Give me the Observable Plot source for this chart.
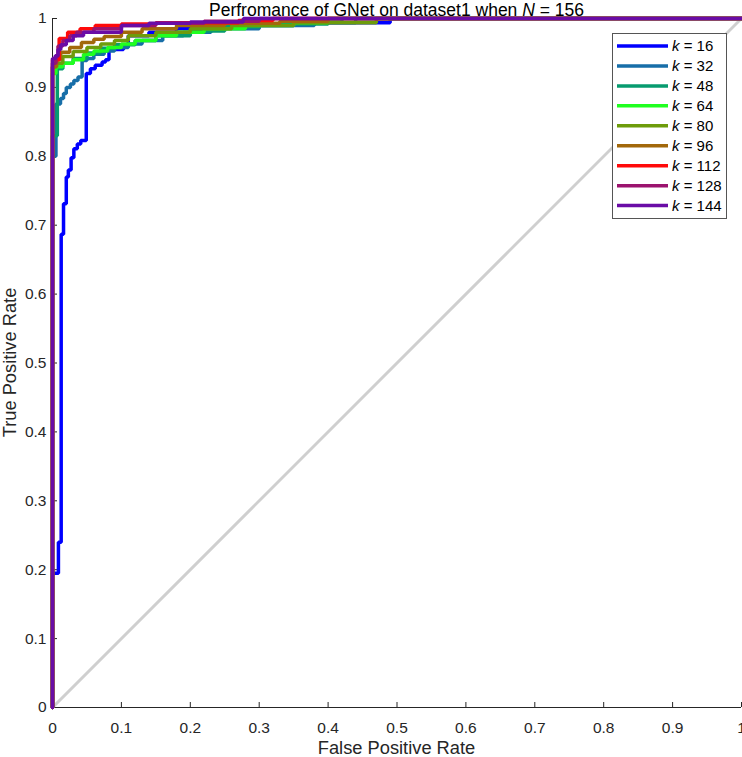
<!DOCTYPE html>
<html><head><meta charset="utf-8">
<script src="https://cdn.jsdelivr.net/npm/d3@7"></script>
<script src="https://cdn.jsdelivr.net/npm/@observablehq/plot@0.6"></script>
<style>body{margin:0;background:#fff} svg{display:block}</style>
</head><body><div id="chart"></div>
<script>
// ---- data ----
const kValues = [16, 32, 48, 64, 80, 96, 112, 128, 144];
const colors = ["#0000ff", "#176ea8", "#079b6f", "#20ff20", "#6d9c0b", "#a2680b", "#ff0a0a", "#9b136e", "#6a0ca6"];

// ROC corner points [FPR, TPR] (step-after)
const roc16 = [[0,0],[0,0.195],[0.0086,0.24],[0.0126,0.687],[0.016,0.731],[0.02,0.77],[0.023,0.78],[0.027,0.798],[0.031,0.811],[0.036,0.818],[0.041,0.823],[0.049,0.92],[0.055,0.927],[0.062,0.932],[0.072,0.937],[0.077,0.94],[0.082,0.955],[0.103,0.962],[0.11,0.975],[0.14,0.98],[0.18,0.985],[0.25,0.99],[0.35,0.994],[0.49,1],[1,1]];
const roc32 = [[0,0],[0,0.8],[0.005,0.876],[0.0116,0.884],[0.016,0.891],[0.02,0.9],[0.026,0.905],[0.031,0.91],[0.037,0.915],[0.043,0.939],[0.05,0.942],[0.06,0.948],[0.075,0.953],[0.09,0.958],[0.11,0.963],[0.13,0.968],[0.16,0.975],[0.19,0.98],[0.23,0.985],[0.3,0.99],[0.38,0.994],[0.44,1],[1,1]];
const roc48 = [[0,0],[0,0.83],[0.007,0.927],[0.015,0.935],[0.03,0.942],[0.05,0.95],[0.07,0.957],[0.09,0.962],[0.12,0.968],[0.15,0.975],[0.2,0.982],[0.25,0.988],[0.3,0.992],[0.4,0.995],[0.42,1],[1,1]];
const roc64 = [[0,0],[0,0.92],[0.005,0.93],[0.015,0.935],[0.03,0.94],[0.045,0.948],[0.06,0.953],[0.08,0.958],[0.1,0.963],[0.12,0.968],[0.15,0.975],[0.18,0.98],[0.22,0.985],[0.28,0.99],[0.35,0.994],[0.4,1],[1,1]];
const roc80 = [[0,0],[0,0.93],[0.005,0.935],[0.015,0.945],[0.03,0.952],[0.05,0.958],[0.07,0.963],[0.09,0.968],[0.11,0.975],[0.15,0.98],[0.2,0.985],[0.26,0.99],[0.35,0.994],[0.47,1],[1,1]];
const roc96 = [[0,0],[0,0.93],[0.006,0.94],[0.012,0.951],[0.025,0.958],[0.042,0.965],[0.06,0.97],[0.075,0.974],[0.1,0.98],[0.13,0.985],[0.18,0.99],[0.25,0.993],[0.33,0.996],[0.4,1],[1,1]];
const roc112 = [[0,0],[0,0.94],[0.0097,0.971],[0.022,0.98],[0.04,0.985],[0.062,0.99],[0.1,0.992],[0.15,0.994],[0.27,0.997],[0.32,1],[1,1]];
const roc128 = [[0,0],[0,0.935],[0.005,0.945],[0.008,0.96],[0.015,0.968],[0.025,0.975],[0.035,0.98],[0.06,0.985],[0.1,0.99],[0.15,0.993],[0.22,0.996],[0.3,1],[1,1]];
const roc144 = [[0,0],[0,0.942],[0.004,0.946],[0.008,0.955],[0.012,0.962],[0.02,0.968],[0.03,0.975],[0.045,0.98],[0.1,0.99],[0.14,0.993],[0.2,0.995],[0.277,1],[1,1]];
const rocCurves = [roc16, roc32, roc48, roc64, roc80, roc96, roc112, roc128, roc144];
const diagonal = [[0,0],[1,1]];
const xTicks = [0,0.1,0.2,0.3,0.4,0.5,0.6,0.7,0.8,0.9,1];
const yTicks = [0,0.1,0.2,0.3,0.4,0.5,0.6,0.7,0.8,0.9,1];
const xLabel = "False Positive Rate";
const yLabel = "True Positive Rate";
const titleParts = ["Perfromance of GNet on dataset1 when ", "N", " = 156"];
const legendPrefix = "k";

// ---- layout ----
const W = 742, H = 757, mL = 52, mR = 1, mT = 18, mB = 50;
const fW = W - mL - mR, fH = H - mT - mB;
const font = "'Liberation Sans', Arial, Helvetica, sans-serif";
const axisColor = "#262626";

const rows = rocCurves.flatMap((c, i) => c.map(([fpr, tpr]) => ({k: kValues[i], fpr, tpr})));
const fmt = d => String(d);

const svg = Plot.plot({
  width: W, height: H,
  marginLeft: mL, marginRight: mR, marginTop: mT, marginBottom: mB,
  style: {fontFamily: font, fontSize: "15.5px", color: axisColor, background: "#fff", overflow: "visible"},
  x: {domain: [0, 1]},
  y: {domain: [0, 1]},
  color: {domain: kValues, range: colors},
  marks: [
    Plot.ruleY([0], {stroke: axisColor, strokeWidth: 1}),
    Plot.ruleX([0], {stroke: axisColor, strokeWidth: 1}),
    Plot.tickX(xTicks, {x: d => d, insetTop: fH - 5, stroke: axisColor}),
    Plot.tickY(yTicks, {y: d => d, insetRight: fW - 5, stroke: axisColor}),
    Plot.axisX({ticks: xTicks, tickSize: 0, tickPadding: 14, tickFormat: fmt, label: null}),
    Plot.axisY({ticks: yTicks, tickSize: 0, tickPadding: 6, tickFormat: fmt, label: null}),
    Plot.line(diagonal, {x: d => d[0], y: d => d[1], stroke: "#cfcfcf", strokeWidth: 3}),
    Plot.line(rows, {x: "fpr", y: "tpr", z: "k", stroke: "k", strokeWidth: 3.5, curve: "step-after", strokeLinejoin: "miter"})
  ]
});

const s = d3.select(svg);
// title
const t = s.append("text").attr("x", mL + fW / 2).attr("y", 15.5).attr("text-anchor", "middle")
  .attr("font-family", font).attr("font-size", 17.5).attr("fill", "#000");
titleParts.forEach((p, i) => t.append("tspan").text(p).attr("font-style", i === 1 ? "italic" : null));
// axis labels
s.append("text").attr("x", mL + fW / 2).attr("y", 754).attr("text-anchor", "middle")
  .attr("font-family", font).attr("font-size", 18.3).attr("fill", axisColor).text(xLabel);
s.append("text").attr("transform", `translate(16,${mT + fH / 2}) rotate(-90)`).attr("text-anchor", "middle")
  .attr("font-family", font).attr("font-size", 18.3).attr("fill", axisColor).text(yLabel);
// legend
const lg = s.append("g").attr("text-anchor", "start");
lg.append("rect").attr("x", 612.5).attr("y", 33.5).attr("width", 114).attr("height", 185)
  .attr("fill", "#fff").attr("stroke", "#555").attr("stroke-width", 1);
kValues.forEach((k, i) => {
  const y = 46 + i * 19.95;
  lg.append("line").attr("x1", 617).attr("x2", 668).attr("y1", y).attr("y2", y)
    .attr("stroke", colors[i]).attr("stroke-width", 3.5);
  const tx = lg.append("text").attr("x", 672).attr("y", y + 5.3).attr("text-anchor", "start")
    .attr("font-family", font).attr("font-size", 15).attr("fill", "#000");
  tx.append("tspan").attr("font-style", "italic").text(legendPrefix);
  tx.append("tspan").text(" = " + k);
});
document.getElementById("chart").appendChild(svg);
</script>
</body></html>
